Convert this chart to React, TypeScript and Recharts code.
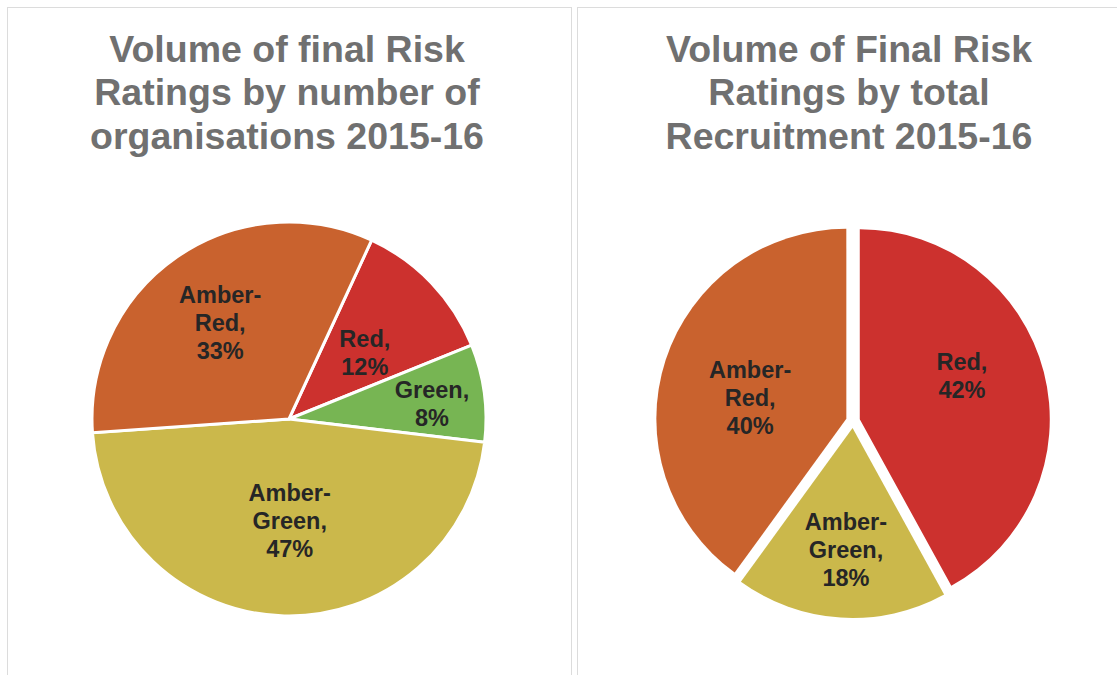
import { PieChart, Pie, Cell, Sector } from "recharts"

const leftNames = ["Red", "Green", "Amber-Green", "Amber-Red"]
const leftValues = [12, 8, 47, 33]
const rightNames = ["Red", "Amber-Green", "Amber-Red"]
const rightValues = [42, 18, 40]

const leftTitle = ["Volume of final Risk", "Ratings by number of", "organisations 2015-16"]
const rightTitle = ["Volume of Final Risk", "Ratings by total", "Recruitment 2015-16"]

const COLORS = {
  Red: "#CC312E",
  Green: "#77B553",
  "Amber-Green": "#CBB84B",
  "Amber-Red": "#C9622E",
}

// label placement inside each slice: [radius fraction, angle shift in degrees]
const leftLabelPos = [[0.51, -2.6], [0.73, -1.6], [0.52, 1.8], [0.6, 1]]
const rightLabelPos = [[0.584, 8.6], [0.643, 0.5], [0.518, 5.8]]

const RAD = Math.PI / 180
const EXPLODE = 7

const leftData = leftNames.map((name, i) => ({ name, value: leftValues[i] }))
const rightData = rightNames.map((name, i) => ({ name, value: rightValues[i] }))

function offset(midAngle, d) {
  return { dx: d * Math.cos(-midAngle * RAD), dy: d * Math.sin(-midAngle * RAD) }
}

function makeLabel(explode, layout) {
  return (props) => {
    const { cx, cy, midAngle, outerRadius, percent, name, index } = props
    const { dx, dy } = offset(midAngle, explode)
    const [frac, shift] = layout[index]
    const a = midAngle + shift
    const x = cx + dx + outerRadius * frac * Math.cos(-a * RAD)
    const y = cy + dy + outerRadius * frac * Math.sin(-a * RAD)
    const parts = name.includes("-") ? [name.split("-")[0] + "-", name.split("-")[1] + ","] : [name + ","]
    const lines = [...parts, Math.round(percent * 100) + "%"]
    const lh = 28
    return (
      <text
        x={x}
        y={y}
        textAnchor="middle"
        fill="#262626"
        fontSize={23.5}
        fontWeight="bold"
        fontFamily="Liberation Sans, Arial, sans-serif"
      >
        {lines.map((l, i) => (
          <tspan key={i} x={x} y={y + (i - (lines.length - 1) / 2) * lh} dominantBaseline="central">
            {l}
          </tspan>
        ))}
      </text>
    )
  }
}

function explodedShape(props) {
  const { dx, dy } = offset(props.midAngle, EXPLODE)
  return <Sector {...props} cx={props.cx + dx} cy={props.cy + dy} />
}

const titleStyle = {
  position: "absolute",
  top: 28,
  width: 600,
  textAlign: "center",
  fontFamily: "Liberation Sans, Arial, sans-serif",
  fontWeight: "bold",
  fontSize: 37.5,
  lineHeight: "43.3px",
  color: "#707070",
} as const

export default function App() {
  return (
    <div style={{ position: "absolute", left: 0, top: 0, width: 1117, height: 675, overflow: "hidden", background: "#fff" }}>
      <div style={{ position: "absolute", left: 7, top: 7, width: 563, height: 700, border: "1.5px solid #dcdcdc" }} />
      <div style={{ position: "absolute", left: 577, top: 7, width: 560, height: 700, border: "1.5px solid #dcdcdc" }} />
      <div style={{ ...titleStyle, left: 287 - 300 }}>
        {leftTitle.map((t) => (
          <div key={t}>{t}</div>
        ))}
      </div>
      <div style={{ ...titleStyle, left: 849 - 300 }}>
        {rightTitle.map((t) => (
          <div key={t}>{t}</div>
        ))}
      </div>
      <div style={{ position: "absolute", left: 0, top: 0 }}>
        <PieChart width={1117} height={675} margin={{ top: 0, right: 0, bottom: 0, left: 0 }}>
          <Pie
            data={leftData}
            dataKey="value"
            nameKey="name"
            cx={289}
            cy={419}
            outerRadius={197}
            startAngle={65.2}
            endAngle={-294.8}
            stroke="#fff"
            strokeWidth={3}
            labelLine={false}
            label={makeLabel(0, leftLabelPos)}
            isAnimationActive={false}
          >
            {leftData.map((d) => (
              <Cell key={d.name} fill={COLORS[d.name]} />
            ))}
          </Pie>
          <Pie
            data={rightData}
            dataKey="value"
            nameKey="name"
            cx={853}
            cy={421}
            outerRadius={190}
            startAngle={90}
            endAngle={-270}
            stroke="none"
            labelLine={false}
            label={makeLabel(EXPLODE, rightLabelPos)}
            shape={explodedShape}
            isAnimationActive={false}
          >
            {rightData.map((d) => (
              <Cell key={d.name} fill={COLORS[d.name]} />
            ))}
          </Pie>
        </PieChart>
      </div>
    </div>
  )
}
